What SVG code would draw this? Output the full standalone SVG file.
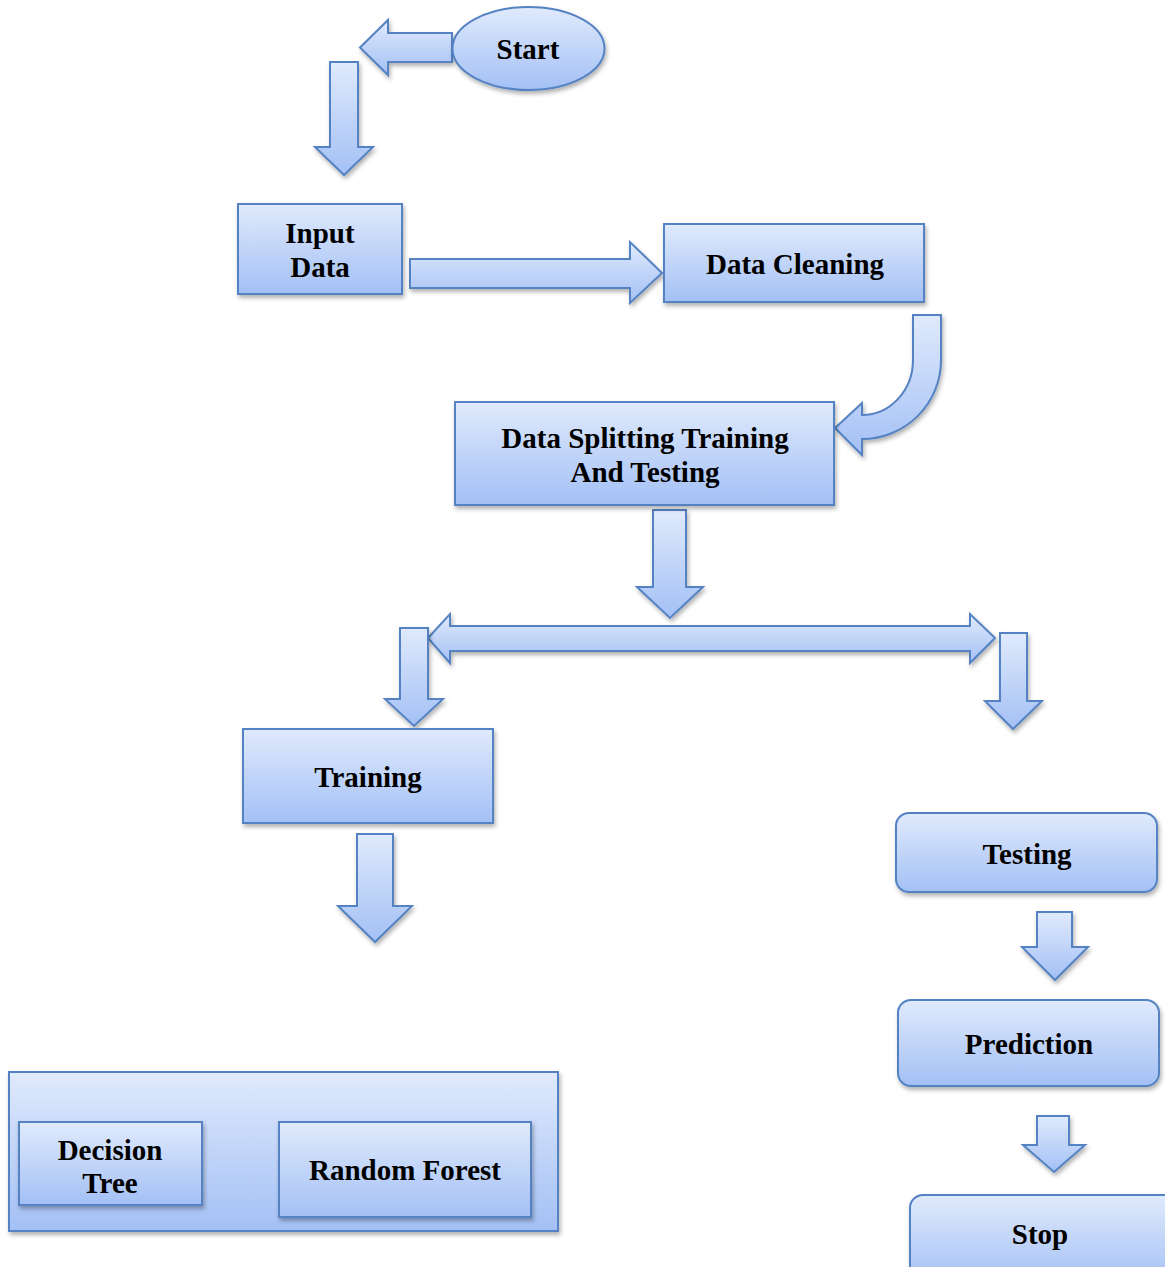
<svg xmlns="http://www.w3.org/2000/svg" width="1165" height="1267" viewBox="0 0 1165 1267">
<defs>
<linearGradient id="g" x1="0" y1="0" x2="0" y2="1">
<stop offset="0" stop-color="#e0eafc"/>
<stop offset="1" stop-color="#a3c0f5"/>
</linearGradient>
<filter id="sh" x="-10%" y="-10%" width="125%" height="135%">
<feDropShadow dx="1.5" dy="3" stdDeviation="2" flood-color="#000" flood-opacity="0.3"/>
</filter>
</defs>
<style>
.s{fill:url(#g);stroke:#5582c2;stroke-width:2;filter:url(#sh)}
.t{font-family:"Liberation Serif","Times New Roman",serif;font-weight:bold;font-size:29px;fill:#000;text-anchor:middle}
</style>
<rect width="1165" height="1267" fill="#fff"/>
<g id="connectors">
<path class="s" d="M452 33 L388 33 L388 20 L360 47.5 L388 75 L388 62 L452 62 Z"/>
<path class="s" d="M330 62 L358 62 L358 147 L373 147 L344 175 L315 147 L330 147 Z"/>
<path class="s" d="M410 259 L630 259 L630 242 L662 273 L630 303 L630 288 L410 288 Z"/>
<path class="s" d="M913 315 L941 315 L941 360 A79 79 0 0 1 862 439 L862 455 L835 428 L862 403 L862 415 A51 55 0 0 0 913 360 Z"/>
<path class="s" d="M653 510 L686 510 L686 587 L703 587 L670 618 L637 587 L653 587 Z"/>
<path class="s" d="M450 626 L970 626 L970 614 L995 638 L970 663 L970 651 L450 651 L450 663 L428 638 L450 614 Z"/>
<path class="s" d="M400 628 L428 628 L428 699 L443 699 L414 726 L385 699 L400 699 Z"/>
<path class="s" d="M1000 633 L1027 633 L1027 701 L1042 701 L1013 729 L985 701 L1000 701 Z"/>
<path class="s" d="M357 834 L393 834 L393 906 L412 906 L375 942 L338 906 L357 906 Z"/>
<path class="s" d="M1037 912 L1072 912 L1072 947 L1088 947 L1055 980 L1022 947 L1037 947 Z"/>
<path class="s" d="M1037 1116 L1069 1116 L1069 1145 L1085 1145 L1054 1172 L1023 1145 L1037 1145 Z"/>
</g>
<g id="start">
<ellipse class="s" cx="528.5" cy="48.5" rx="76" ry="41.5"/>
<text class="t" x="528" y="59">Start</text>
</g>
<g id="input-data">
<rect class="s" x="238" y="204" width="164" height="90"/>
<text class="t" x="320" y="243">Input</text>
<text class="t" x="320" y="277">Data</text>
</g>
<g id="data-cleaning">
<rect class="s" x="664" y="224" width="260" height="78"/>
<text class="t" x="795" y="274">Data Cleaning</text>
</g>
<g id="data-splitting">
<rect class="s" x="455" y="402" width="379" height="103"/>
<text class="t" x="645" y="448">Data Splitting Training</text>
<text class="t" x="645" y="482">And Testing</text>
</g>
<g id="training">
<rect class="s" x="243" y="729" width="250" height="94"/>
<text class="t" x="368" y="787">Training</text>
</g>
<g id="testing">
<rect class="s" x="896" y="813" width="261" height="79" rx="13"/>
<text class="t" x="1027" y="864">Testing</text>
</g>
<g id="prediction">
<rect class="s" x="898" y="1000" width="261" height="86" rx="13"/>
<text class="t" x="1029" y="1054">Prediction</text>
</g>
<g id="stop">
<rect class="s" x="910" y="1195" width="270" height="90" rx="13"/>
<text class="t" x="1040" y="1244">Stop</text>
</g>
<g id="models">
<rect class="s" x="9" y="1072" width="549" height="159"/>
<g id="decision-tree">
<rect class="s" x="19" y="1122" width="183" height="83"/>
<text class="t" x="110" y="1160">Decision</text>
<text class="t" x="110" y="1193">Tree</text>
</g>
<g id="random-forest">
<rect class="s" x="279" y="1122" width="252" height="95"/>
<text class="t" x="405" y="1180">Random Forest</text>
</g>
</g>
</svg>
